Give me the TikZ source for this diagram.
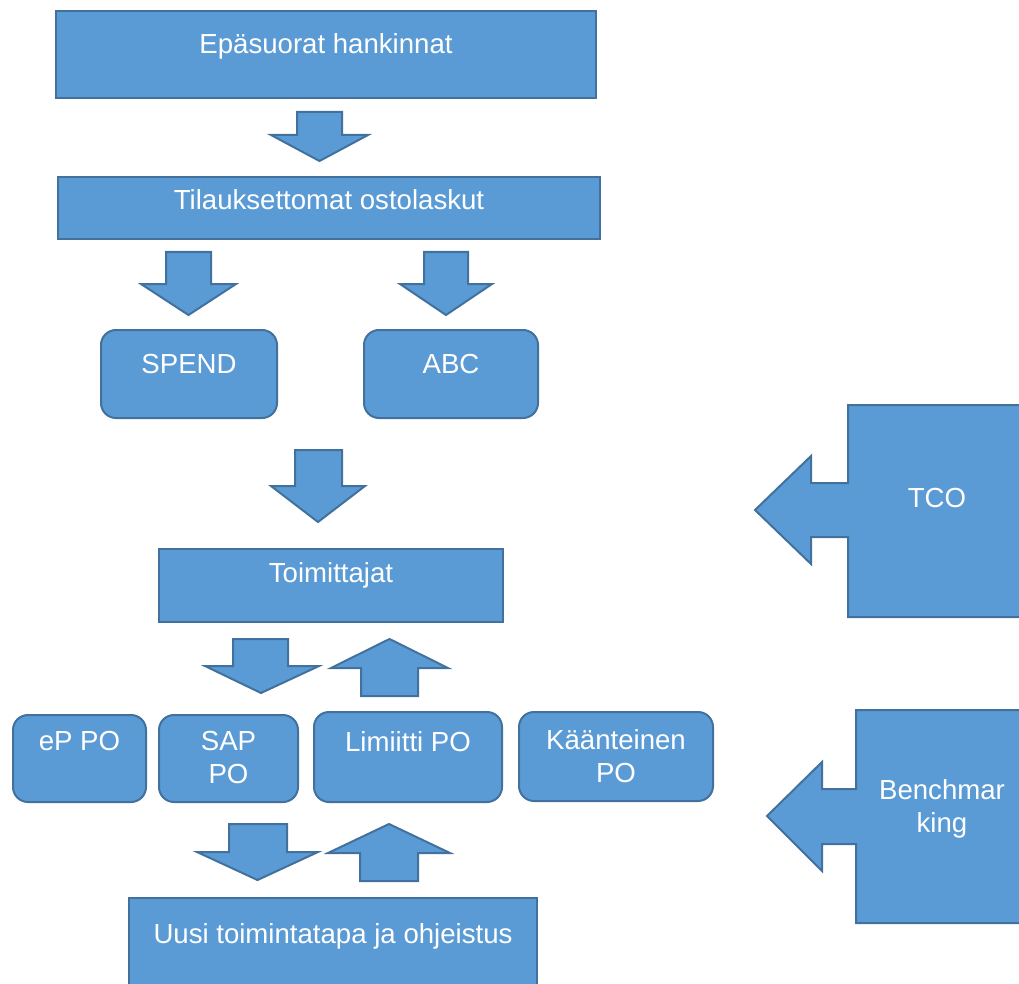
\documentclass[tikz,border=0pt]{standalone}
\usepackage{fontspec}
\setmainfont{Liberation Sans}
\usetikzlibrary{positioning}

\definecolor{boxblue}{HTML}{5B9BD5}
\definecolor{edgeblue}{HTML}{41719C}

\tikzset{
  blk/.style={draw=edgeblue, fill=boxblue, line width=2pt, anchor=north west, inner sep=0pt},
  rblk/.style={blk, rounded corners=15pt},
  txt/.style={text=white, font=\fontsize{27.6}{33}\selectfont, align=center, inner sep=0pt},
  barrow/.style={draw=edgeblue, fill=boxblue, line width=2pt, line join=miter},
}

\begin{document}
\begin{tikzpicture}[x=1pt, y=-1pt]
  \useasboundingbox (0,0) rectangle (1019,984);
  % Boxes
  \node[blk, minimum width=540pt, minimum height=87pt] (epa) at (55,10) {};
  \node[blk, minimum width=542pt, minimum height=62pt] (tila) at (57,176) {};
  \node[rblk, minimum width=176pt, minimum height=88pt] (spend) at (100,329) {};
  \node[rblk, minimum width=174pt, minimum height=88pt] (abc) at (363,329) {};
  \node[blk, minimum width=344pt, minimum height=73pt] (toim) at (158,548) {};
  \node[rblk, minimum width=133pt, minimum height=87pt] (eppo) at (12,714) {};
  \node[rblk, minimum width=139pt, minimum height=87pt] (sappo) at (158,714) {};
  \node[rblk, minimum width=188pt, minimum height=90pt] (limpo) at (313,711) {};
  \node[rblk, minimum width=194pt, minimum height=89pt] (kaanpo) at (518,711) {};
  \node[blk, minimum width=408pt, minimum height=120pt] (uusi) at (128,897) {};
  % Block arrows
  \draw[barrow] (297,112) -- (342,112) -- (342,135) -- (368,135) -- (319.5,161) -- (271,135) -- (297,135) -- cycle;
  \draw[barrow] (166,252) -- (211,252) -- (211,284) -- (236,284) -- (188.5,315) -- (141,284) -- (166,284) -- cycle;
  \draw[barrow] (424,252) -- (468,252) -- (468,284) -- (492,284) -- (446,315) -- (400,284) -- (424,284) -- cycle;
  \draw[barrow] (295,450) -- (342,450) -- (342,486) -- (365,486) -- (318,522) -- (271,486) -- (295,486) -- cycle;
  \draw[barrow] (233,639) -- (288,639) -- (288,666) -- (319,666) -- (261,693) -- (205,666) -- (233,666) -- cycle;
  \draw[barrow] (361,696) -- (418,696) -- (418,668) -- (448,668) -- (389.5,639) -- (331,668) -- (361,668) -- cycle;
  \draw[barrow] (229,824) -- (287,824) -- (287,852) -- (318,852) -- (257.5,880) -- (197,852) -- (229,852) -- cycle;
  \draw[barrow] (360,881) -- (418,881) -- (418,853) -- (450,853) -- (389,824) -- (328,853) -- (360,853) -- cycle;
  % Callouts
  \draw[barrow] (848,405) -- (1040,405) -- (1040,617) -- (848,617) -- (848,537) -- (811,537) -- (811,564)
    -- (755,510) -- (811,456) -- (811,483) -- (848,483) -- cycle;
  \draw[barrow] (856,710) -- (1040,710) -- (1040,923) -- (856,923) -- (856,844) -- (822,844) -- (822,871)
    -- (767,816) -- (822,762) -- (822,789) -- (856,789) -- cycle;
  % Texts
  \node[txt, below=23pt of epa.north] (epa-t) {Epäsuorat hankinnat};
  \node[txt, below=13pt of tila.north] (tila-t) {Tilauksettomat ostolaskut};
  \node[txt, below=25pt of spend.north] (spend-t) {SPEND};
  \node[txt, below=25pt of abc.north] (abc-t) {ABC};
  \node[txt, below=14pt of toim.north] (toim-t) {Toimittajat};
  \node[txt, below=17pt of eppo.north] (eppo-t) {eP PO};
  \node[txt, below=17pt of sappo.north] (sappo-t) {SAP\\PO};
  \node[txt, below=20pt of limpo.north] (limpo-t) {Limiitti PO};
  \node[txt, below=18pt of kaanpo.north] (kaanpo-t) {Käänteinen\\PO};
  \node[txt, below=26pt of uusi.north] (uusi-t) {Uusi toimintatapa ja ohjeistus};
  \node[txt, anchor=north] (tco) at (937,488) {TCO};
  \node[txt, anchor=north] (bench) at (942,779) {Benchmar\\king};
\end{tikzpicture}
\end{document}
